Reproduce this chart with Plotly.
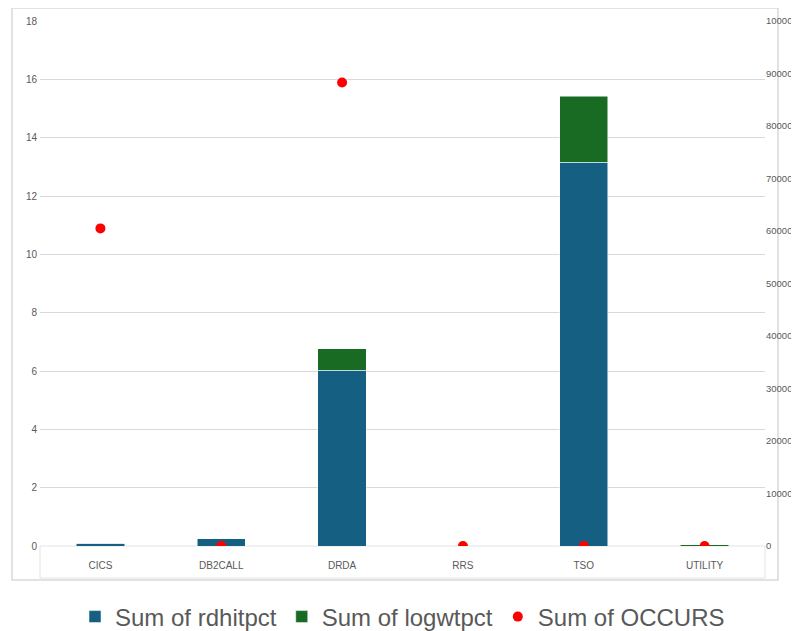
import plotly.graph_objects as go

categories = ["CICS", "DB2CALL", "DRDA", "RRS", "TSO", "UTILITY"]
rdhitpct = [0.1, 0.25, 6.02, 0.0, 13.15, 0.0]
logwtpct = [0.0, 0.0, 0.75, 0.0, 2.27, 0.05]
occurs = [60500, 0, 88300, 0, 0, 0]

OFF = 8  # page body margin
W, H = 799 - OFF, 631 - OFF
L, R, T, B = 40 - OFF, 34, 21 - OFF, 85
pw = W - L - R
ph = H - T - B

def px_x(x):
    return (x - OFF - L) / pw

def px_y(y):
    return (H - B - (y - OFF)) / ph

fig = go.Figure()
fig.add_trace(go.Bar(x=categories, y=rdhitpct, name="Sum of rdhitpct",
                     marker=dict(color="#156082", line=dict(color="#ffffff", width=0.5)),
                     width=0.4))
fig.add_trace(go.Bar(x=categories, y=logwtpct, name="Sum of logwtpct",
                     marker=dict(color="#196B24", line=dict(color="#ffffff", width=0.5)),
                     width=0.4))
fig.add_trace(go.Scatter(x=categories, y=occurs, name="Sum of OCCURS", yaxis="y2",
                         mode="markers", marker=dict(color="#FF0000", size=10)))

tickfont = dict(family="Liberation Sans Narrow, Liberation Sans, Arial", size=10, color="#595959")
tickfont_r = dict(family="Liberation Sans Narrow, Liberation Sans, Arial", size=9.5, color="#595959")

fig.update_layout(
    width=W, height=H,
    margin=dict(l=L, r=R, t=T, b=B, autoexpand=False),
    barmode="stack",
    bargap=0.6,
    plot_bgcolor="white",
    paper_bgcolor="white",
    xaxis=dict(showgrid=False, tickfont=tickfont, showline=False, ticks="",
               domain=[0, 1], automargin=False, ticklabelstandoff=12),
    yaxis=dict(range=[0, 18], dtick=2, showgrid=True, gridcolor="#d9d9d9", gridwidth=1,
               zeroline=False, tickfont=tickfont, ticks="", showline=False,
               automargin=False, ticklabelstandoff=2),
    yaxis2=dict(range=[0, 100000], dtick=10000, overlaying="y", side="right",
                showgrid=False, zeroline=False, tickfont=tickfont_r, tickformat="d",
                ticks="", showline=False, automargin=False, ticklabelstandoff=0),
    legend=dict(orientation="h", x=0.5, xanchor="center", y=px_y(617), yanchor="middle",
                font=dict(family="Liberation Sans Narrow, Liberation Sans, Arial", size=24,
                          color="#595959"),
                traceorder="normal", itemwidth=30),
    showlegend=True,
    shapes=[
        dict(type="rect", xref="paper", yref="paper",
             x0=px_x(12), x1=px_x(778), y0=px_y(580), y1=px_y(8),
             line=dict(color="#d9d9d9", width=1.5), layer="below"),
        dict(type="rect", xref="paper", yref="paper",
             x0=0, x1=1, y0=px_y(578), y1=0,
             line=dict(color="#e3e3e3", width=1), layer="below"),
    ],
)

fig.write_html("out.html")
